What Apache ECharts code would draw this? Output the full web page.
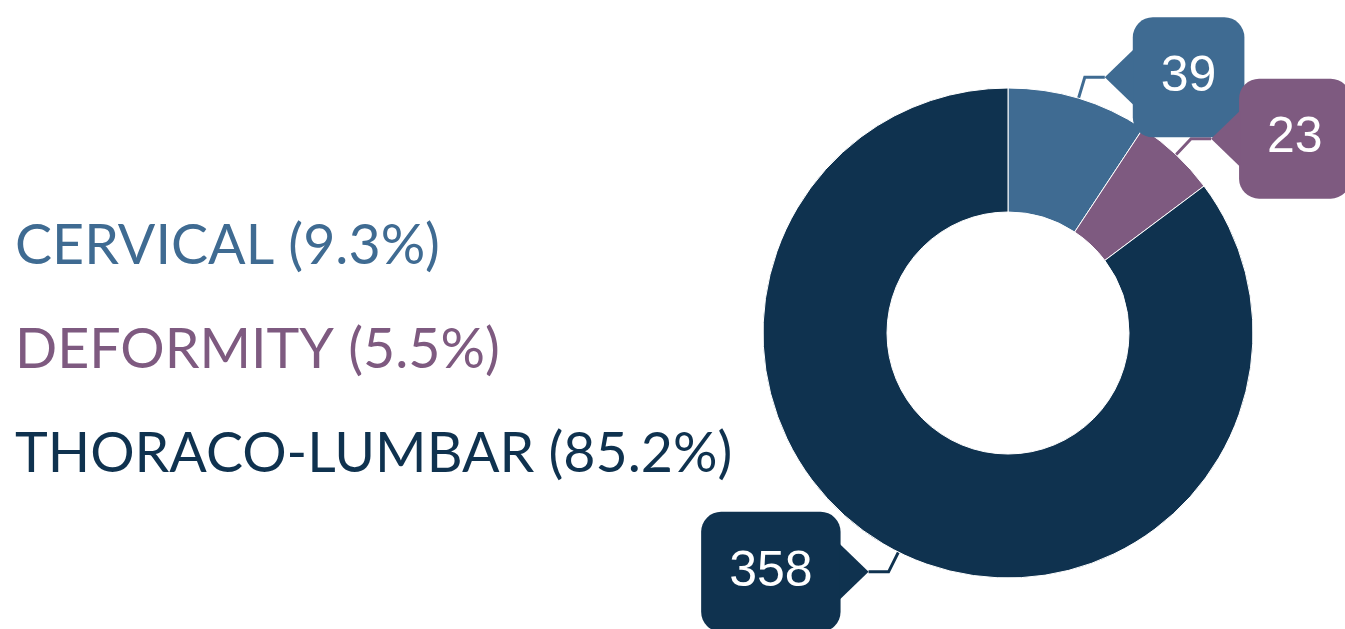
<!DOCTYPE html>
<html>
<head>
<meta charset="utf-8">
<script src="https://cdn.jsdelivr.net/npm/echarts@6/dist/echarts.min.js"></script>
<style>
html,body{margin:0;padding:0;background:#fff;}
#chart{width:1345px;height:629px;}
</style>
</head>
<body>
<div id="chart"></div>
<script>
const categories = ['CERVICAL', 'DEFORMITY', 'THORACO-LUMBAR'];
const values = [39, 23, 358];
const colors = ['#3f6b92', '#7e5a80', '#0f324f'];

const total = values.reduce((a, b) => a + b, 0);
const pct = values.map(v => (v / total * 100).toFixed(1));

const chart = echarts.init(document.getElementById('chart'), null, {renderer: 'canvas'});

const option = {
  animation: false,
  legend: {
    orient: 'vertical',
    left: 4,
    top: 209,
    itemWidth: 0,
    itemHeight: 0,
    itemGap: 40,
    selectedMode: false,
    data: categories.map((c, i) => ({name: c, textStyle: {color: colors[i]}})),
    formatter: name => {
      const i = categories.indexOf(name);
      return name + ' (' + pct[i] + '%)';
    },
    textStyle: {fontFamily: 'Lato', fontSize: 55.5, lineHeight: 64}
  },
  series: [{
    type: 'pie',
    center: [1008, 333],
    radius: [121, 245],
    startAngle: 90,
    clockwise: true,
    avoidLabelOverlap: false,
    silent: true,
    labelLayout: {hideOverlap: false, moveOverlap: null},
    itemStyle: {borderColor: '#ffffff', borderWidth: 1},
    label: {
      show: true,
      position: 'outside',
      formatter: '{c}',
      color: '#ffffff',
      fontFamily: 'Liberation Sans',
      fontSize: 50,
      lineHeight: 50,
      padding: [36, 28, 34, 28],
      borderRadius: 20,
      distanceToLabelLine: 28
    },
    labelLine: {
      show: true,
      length: 22,
      length2: 20,
      lineStyle: {width: 3}
    },
    data: categories.map((c, i) => ({
      name: c,
      value: values[i],
      itemStyle: {color: colors[i]},
      label: {backgroundColor: colors[i]},
      labelLine: {lineStyle: {color: colors[i]}}
    }))
  }]
};
chart.setOption(option);

function addTails() {
  const data = chart.getModel().getSeriesByIndex(0).getData();
  const els = [];
  for (let i = 0; i < data.count(); i++) {
    const el = data.getItemGraphicEl(i);
    const guide = el && el.getTextGuideLine && el.getTextGuideLine();
    if (!guide || !guide.shape || !guide.shape.points) continue;
    const pts = guide.shape.points;
    const p2 = pts[pts.length - 1], p1 = pts[pts.length - 2];
    const dir = p2[0] >= p1[0] ? 1 : -1;
    const d = 28;
    els.push({
      type: 'polygon',
      z: 10,
      silent: true,
      shape: {points: [[p2[0], p2[1]], [p2[0] + dir * (d + 1), p2[1] - d], [p2[0] + dir * (d + 1), p2[1] + d]]},
      style: {fill: colors[i]}
    });
  }
  if (els.length) chart.setOption({graphic: els});
}
addTails();
</script>
</body>
</html>
